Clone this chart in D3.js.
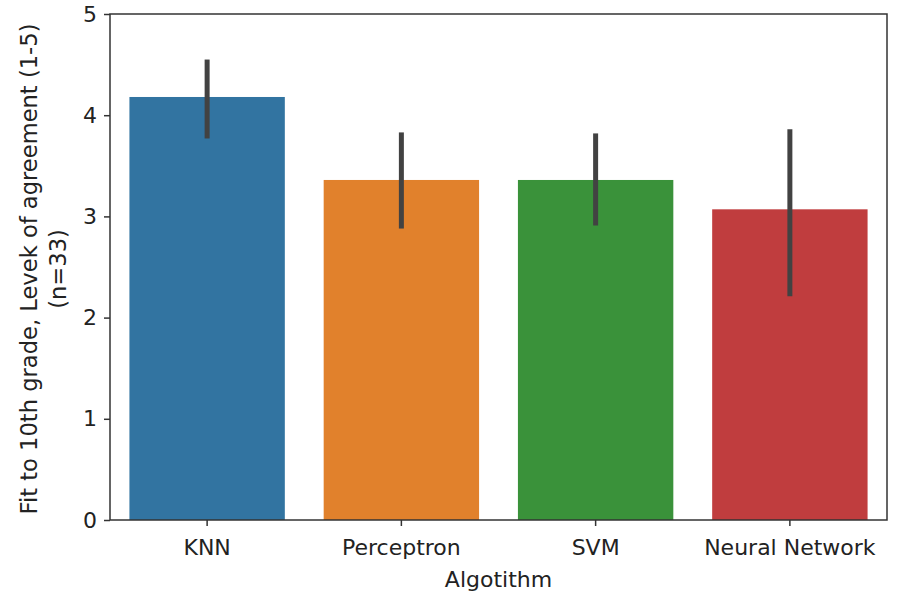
<!DOCTYPE html>
<html>
<head>
<meta charset="utf-8">
<script src="https://cdn.jsdelivr.net/npm/d3@7"></script>
<style>
  html, body { margin: 0; padding: 0; background: #ffffff; }
  svg { display: block; }
  text { font-family: "DejaVu Sans", sans-serif; fill: #222; }
</style>
</head>
<body>
<svg id="chart" width="897" height="597"></svg>
<script>
// Mean rating per algorithm with 95% confidence interval bounds
const algorithms = ["KNN", "Perceptron", "SVM", "Neural Network"];
const meanScores = [4.18, 3.36, 3.36, 3.07];
const ciLow = [3.77, 2.88, 2.91, 2.21];
const ciHigh = [4.55, 3.83, 3.82, 3.86];
const barColors = ["#3274a1", "#e1812c", "#3a923a", "#c03d3e"];
const yTicks = [0, 1, 2, 3, 4, 5];

const svg = d3.select("#chart");
const margin = { top: 14, right: 10, bottom: 77, left: 110 };
const width = 897 - margin.left - margin.right;
const height = 597 - margin.top - margin.bottom;
const FONT = 22; // label font size

const g = svg.append("g").attr("transform", `translate(${margin.left},${margin.top})`);

const x = d3.scaleBand().domain(algorithms).range([0, width]).paddingInner(0.2).paddingOuter(0.1);
const y = d3.scaleLinear().domain([0, 5]).range([height, 0]);

const data = algorithms.map((a, i) => ({
  name: a, mean: meanScores[i], lo: ciLow[i], hi: ciHigh[i], color: barColors[i]
}));

// bars
g.selectAll("rect.bar").data(data).join("rect")
  .attr("class", "bar")
  .attr("x", d => x(d.name))
  .attr("width", x.bandwidth())
  .attr("y", d => y(d.mean))
  .attr("height", d => y(0) - y(d.mean))
  .attr("fill", d => d.color);

// error bars
g.selectAll("line.err").data(data).join("line")
  .attr("class", "err")
  .attr("x1", d => x(d.name) + x.bandwidth() / 2)
  .attr("x2", d => x(d.name) + x.bandwidth() / 2)
  .attr("y1", d => y(d.lo))
  .attr("y2", d => y(d.hi))
  .attr("stroke", "#424242")
  .attr("stroke-width", 5);

// axes
const yAxis = g.append("g")
  .call(d3.axisLeft(y).tickValues(yTicks).tickFormat(d3.format("d")).tickSize(6).tickPadding(7));
const xAxis = g.append("g")
  .attr("transform", `translate(0,${height})`)
  .call(d3.axisBottom(x).tickSize(6).tickPadding(13));

[yAxis, xAxis].forEach(a => {
  a.select(".domain").remove();
  a.selectAll(".tick line").attr("stroke", "#333").attr("stroke-width", 1.5);
  a.selectAll(".tick text").style("font-size", FONT + "px").style("fill", "#222")
    .style("font-family", "'DejaVu Sans', sans-serif");
});

// frame
g.append("rect")
  .attr("x", 0).attr("y", 0).attr("width", width).attr("height", height)
  .attr("fill", "none").attr("stroke", "#333").attr("stroke-width", 1.5);

// axis titles
svg.append("text")
  .attr("x", margin.left + width / 2).attr("y", 587)
  .attr("text-anchor", "middle").style("font-size", FONT + "px")
  .text("Algotithm");

const yl = svg.append("text")
  .attr("transform", `translate(37,${margin.top + height / 2 + 2}) rotate(-90)`)
  .attr("text-anchor", "middle").style("font-size", "22.6px");
yl.append("tspan").attr("x", 0).attr("dy", 0).text("Fit to 10th grade, Levek of agreement (1-5)");
yl.append("tspan").attr("x", 0).attr("dy", 29).text("(n=33)");
</script>
</body>
</html>
